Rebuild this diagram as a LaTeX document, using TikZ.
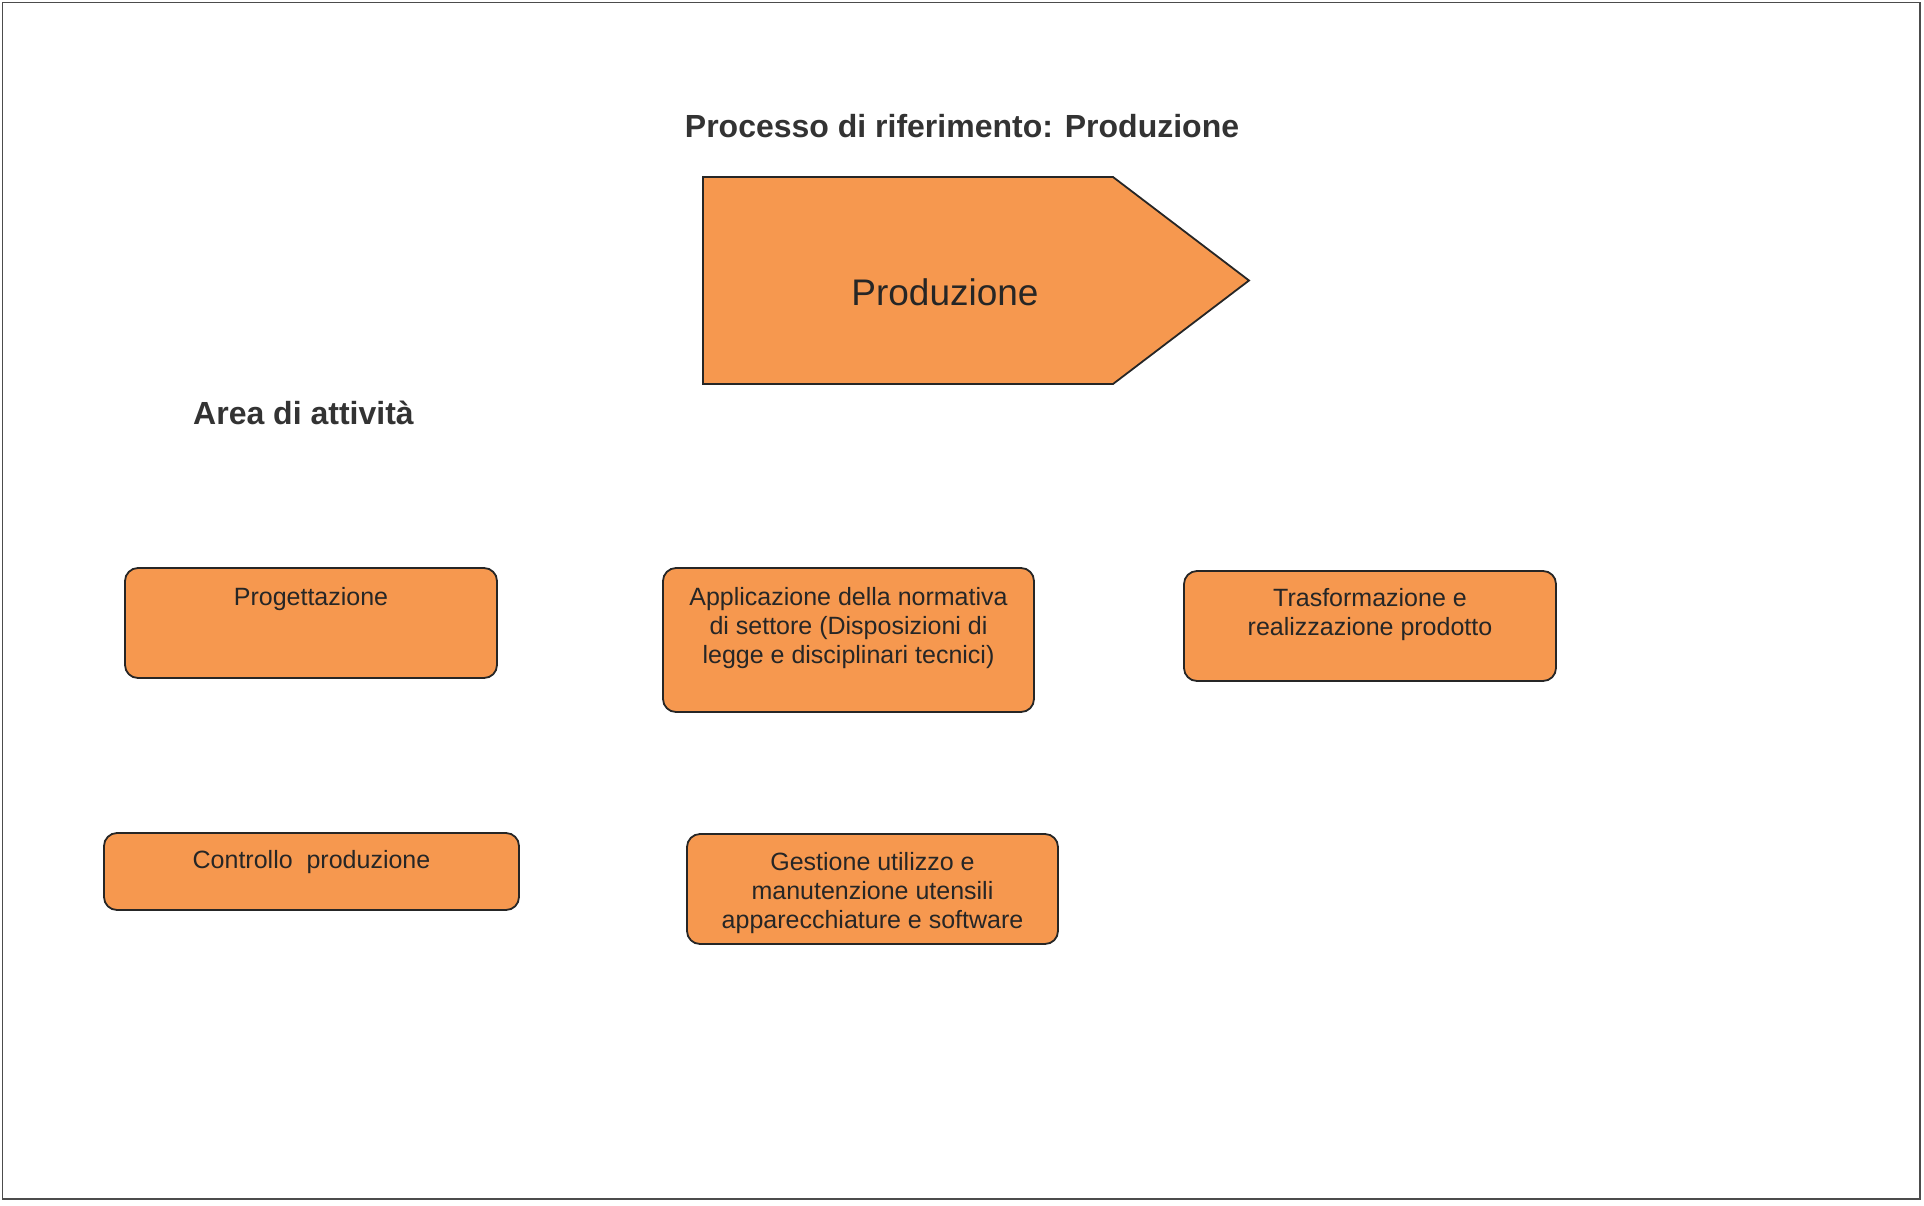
\documentclass[tikz,border=0pt]{standalone}
\usepackage{fontspec}
\setmainfont{Liberation Sans}
\definecolor{boxorange}{HTML}{F6984F}
\definecolor{ink}{HTML}{262626}
\definecolor{titleink}{HTML}{333333}
\tikzset{
  abox/.style={draw=ink, line width=1.8pt, fill=boxorange, rounded corners=13pt, inner sep=0pt},
  boxtext/.style={anchor=north, inner sep=0pt, align=center, text=ink, font=\fontsize{25}{29}\selectfont},
  heading/.style={anchor=base, inner sep=0pt, text=titleink, font=\bfseries\fontsize{32}{38}\selectfont}
}
\begin{document}
\begin{tikzpicture}[x=1pt,y=-1pt]
\useasboundingbox (0,0) rectangle (1924,1205);
% page frame
\draw[draw=black!70, line width=1.6pt] (2.5,2.5) rectangle (1920,1199);

% title
\node[heading] (title) at (962,137) {Processo di riferimento: Produzione};

% process arrow
\coordinate (pa) at (703,177);
\coordinate (pb) at (1113,177);
\coordinate (pc) at (1249,280.5);
\coordinate (pd) at (1113,384);
\coordinate (pe) at (703,384);
\draw[draw=ink, line width=1.8pt, fill=boxorange, line join=miter] (pa) -- (pb) -- (pc) -- (pd) -- (pe) -- cycle;
\node[anchor=base, inner sep=0pt, text=ink, font=\fontsize{37}{44}\selectfont] (prodlabel) at (945,305) {Produzione};

% area label
\node[heading] (area) at (303.5,424) {Area di attività};

% activity boxes
\node[abox, minimum width=372pt, minimum height=110pt] (prog) at (311,623) {};
\node[boxtext] (progt) at ([yshift=-20pt]prog.north) {Progettazione};

\node[abox, minimum width=371pt, minimum height=144pt] (appl) at (848.5,640) {};
\node[boxtext] (applt) at ([yshift=-20pt]appl.north) {Applicazione della normativa\\di settore (Disposizioni di\\legge e disciplinari tecnici)};

\node[abox, minimum width=372pt, minimum height=110pt] (trasf) at (1370,626) {};
\node[boxtext] (trasft) at ([yshift=-18pt]trasf.north) {Trasformazione e\\realizzazione prodotto};

\node[abox, minimum width=415pt, minimum height=77pt] (contr) at (311.5,871.5) {};
\node[boxtext] (contrt) at ([yshift=-18pt]contr.north) {Controllo\ \ produzione};

\node[abox, minimum width=371pt, minimum height=110pt] (gest) at (872.5,889) {};
\node[boxtext] (gestt) at ([yshift=-19pt]gest.north) {Gestione utilizzo e\\manutenzione utensili\\apparecchiature e software};
\end{tikzpicture}
\end{document}
